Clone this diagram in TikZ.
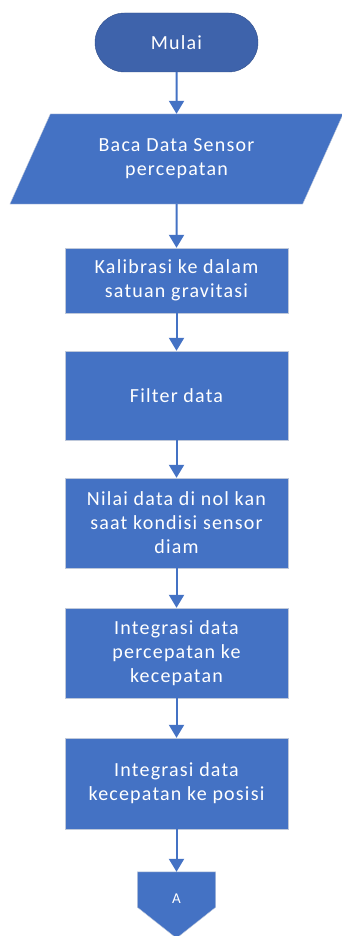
\documentclass[tikz,border=0pt]{standalone}
\usepackage{fontspec}
\setmainfont{Carlito}[LetterSpace=6]
\usetikzlibrary{positioning}
\usetikzlibrary{shapes.geometric}
\usetikzlibrary{arrows.meta}

\begin{document}
\begin{tikzpicture}[x=1pt,y=-1pt]
    \tikzset{every node/.style={text=white, align=center, font=\fontsize{20}{24}\selectfont}}
    \tikzset{prosesbox/.style={rectangle, draw=Garis_box, fill=Biru_box, minimum width=223pt}}
    \tikzset{panah/.style={-{Triangle[width=15pt,length=13pt]}, line width=2pt, draw=Biru_box}}

    % Warna
    \definecolor{Biru_box}{RGB}{68,114,196}
    \definecolor{Biru_tua}{RGB}{62,99,171}
    \definecolor{Garis_box}{RGB}{190,200,218}

    \useasboundingbox (0,0) rectangle (341,936);

    % Mulai (terminator)
    \node[rectangle, rounded corners=29.5pt, draw=Biru_tua!80!black, fill=Biru_tua, minimum width=163pt, minimum height=59pt] (mulai) at (176.5,42.5) {Mulai};

    % Input sensor (jajaran genjang)
    \node[trapezium, trapezium left angle=61, trapezium right angle=119, trapezium stretches=true, draw=Garis_box, fill=Biru_box, minimum width=334pt, minimum height=90pt] (baca) at (176.5,159) {Baca Data Sensor\\percepatan};

    % Proses
    \node[prosesbox, minimum height=65pt] (kalibrasi) at (176.5,280.5) {Kalibrasi ke dalam\\satuan gravitasi};
    \node[prosesbox, minimum height=89pt] (filter) at (176.5,395.5) {Filter data};
    \node[prosesbox, minimum height=90pt] (nol) at (176.5,523) {Nilai data di nol kan\\saat kondisi sensor\\diam};
    \node[prosesbox, minimum height=90pt] (intvel) at (176.5,653) {Integrasi data\\percepatan ke\\kecepatan};
    \node[prosesbox, minimum height=91pt] (intpos) at (176.5,783.5) {Integrasi data\\kecepatan ke posisi};

    % Konektor A (off-page)
    \node[rectangle, minimum width=78pt, minimum height=35pt] (konektor) at (176.5,889.5) {};
    \filldraw[draw=Garis_box, fill=Biru_box] (konektor.north west) -- (konektor.north east) -- (konektor.south east) -- ([yshift=-31pt]konektor.south) -- (konektor.south west) -- cycle;
    \node[font=\fontsize{15}{18}\selectfont] (hurufA) at ([yshift=-9.5pt]konektor.center) {A};

    % Panah
    \foreach \a/\b in {mulai/baca, baca/kalibrasi, kalibrasi/filter, filter/nol, nol/intvel, intvel/intpos, intpos/konektor} {
        \draw[panah] (\a.south) -- (\b.north);
    }

\end{tikzpicture}
\end{document}
